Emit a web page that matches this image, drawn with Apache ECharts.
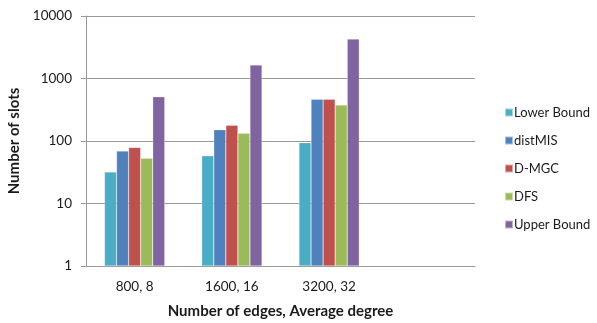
<!DOCTYPE html>
<html>
<head>
<meta charset="utf-8">
<script src="https://cdn.jsdelivr.net/npm/echarts@6/dist/echarts.min.js"></script>
<style>
  html, body { margin: 0; padding: 0; background: #fff; }
  #chart { width: 597px; height: 323px; }
</style>
</head>
<body>
<div id="chart"></div>
<script>
// Slot counts per graph size (log scale)
const categories = ['800, 8', '1600, 16', '3200, 32', ''];
const seriesNames = ['Lower Bound', 'distMIS', 'D-MGC', 'DFS', 'Upper Bound'];
const lowerBound = [32, 58, 94];
const distMIS = [69, 152, 465];
const dMGC = [79, 178, 465];
const dfs = [53, 133, 377];
const upperBound = [511, 1644, 4285];
const colors = ['#4BACC6', '#4F81BD', '#C0504D', '#9BBB59', '#8064A2'];

const values = [lowerBound, distMIS, dMGC, dfs, upperBound];
const font = 'Lato, "Open Sans", sans-serif';
const textColor = '#1a1a1a';

const chart = echarts.init(document.getElementById('chart'), null, { renderer: 'canvas' });
chart.setOption({
  animation: false,
  backgroundColor: '#fff',
  color: colors,
  grid: { left: 86, right: 122, top: 16, bottom: 57, outerBoundsMode: 'none', containLabel: false },
  legend: {
    orient: 'vertical',
    left: 504,
    top: 106,
    padding: 0,
    itemWidth: 8,
    itemHeight: 8,
    itemGap: 15,
    icon: 'rect',
    textStyle: {
      fontFamily: font, fontSize: 13, color: textColor, padding: [0, 0, 0, -4],
      width: 100, overflow: 'none'
    },
    data: seriesNames
  },
  xAxis: {
    type: 'category',
    data: categories,
    name: 'Number of edges, Average degree',
    nameLocation: 'middle',
    nameGap: 38,
    nameTextStyle: { fontFamily: font, fontSize: 15, fontWeight: 'bold', color: textColor },
    axisLine: { lineStyle: { color: '#999', width: 1 } },
    axisTick: { show: false },
    axisLabel: { fontFamily: font, fontSize: 13.5, color: textColor, margin: 14 },
    splitLine: { show: false }
  },
  yAxis: {
    type: 'log',
    logBase: 10,
    min: 1,
    max: 10000,
    name: 'Number of slots',
    nameLocation: 'middle',
    nameGap: 60,
    nameRotate: 90,
    nameTextStyle: { fontFamily: font, fontSize: 15, fontWeight: 'bold', color: textColor },
    axisLine: { show: true, lineStyle: { color: '#999', width: 1 } },
    axisTick: { show: true, inside: false, length: 5, lineStyle: { color: '#999' } },
    axisLabel: {
      fontFamily: font, fontSize: 13.5, color: textColor, margin: 14,
      formatter: v => String(Math.round(v))
    },
    splitLine: { show: true, lineStyle: { color: '#999', width: 1 } },
    minorTick: { show: false },
    minorSplitLine: { show: false }
  },
  series: seriesNames.map((name, i) => ({
    name: name,
    type: 'bar',
    data: values[i],
    barGap: '0%',
    barCategoryGap: '38%',
    itemStyle: { color: colors[i], borderColor: 'rgba(255,255,255,0.5)', borderWidth: 0.5 }
  }))
});
</script>
</body>
</html>
